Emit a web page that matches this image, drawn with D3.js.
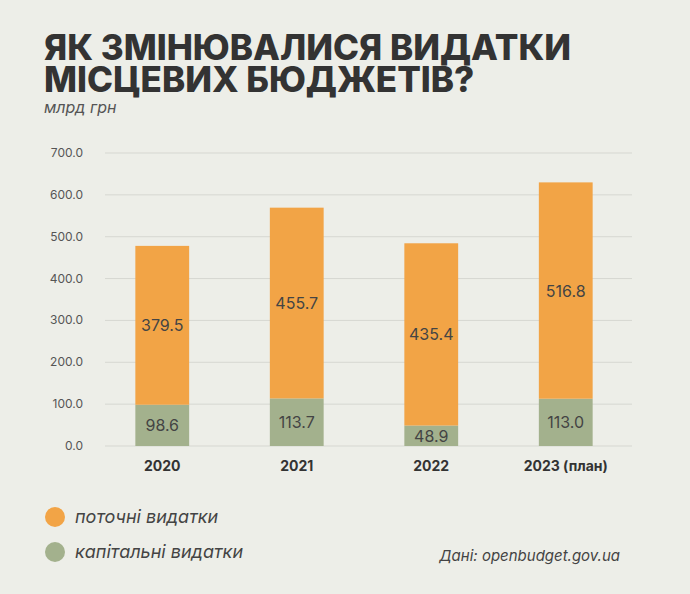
<!DOCTYPE html>
<html><head><meta charset="utf-8">
<script src="https://cdn.jsdelivr.net/npm/d3@7"></script>
<style>body{margin:0;background:#edeee8;font-family:Inter,"Open Sans",sans-serif;}</style>
</head><body>
<script>
//chart data
var years = ["2020", "2021", "2022", "2023 (план)"];
var capital = [98.6, 113.7, 48.9, 113.0];
var current = [379.5, 455.7, 435.4, 516.8];
var ticks = [0, 100, 200, 300, 400, 500, 600, 700];

var width = 690, height = 594;
var svg = d3.select("body").append("svg")
    .attr("width", width).attr("height", height)
    .style("background", "#edeee8");

//title
svg.append("text").attr("x", 44).attr("y", 60)
    .attr("font-size", 35).attr("font-weight", 800).attr("fill", "#333")
    .text("ЯК ЗМІНЮВАЛИСЯ ВИДАТКИ");
svg.append("text").attr("x", 44).attr("y", 92)
    .attr("font-size", 35).attr("font-weight", 800).attr("fill", "#333")
    .text("МІСЦЕВИХ БЮДЖЕТІВ?");
svg.append("text").attr("x", 44).attr("y", 113)
    .attr("font-size", 16).attr("font-style", "italic").attr("fill", "#555")
    .text("млрд грн");

var x = d3.scaleBand().domain(years).range([95, 633]).paddingInner(0.6).paddingOuter(0.3);
var y = d3.scaleLinear().domain([0, 700]).range([446, 153]);

//grid
svg.selectAll(".grid").data(ticks).enter().append("line")
    .attr("x1", 105).attr("x2", 632)
    .attr("y1", function(d) { return y(d); }).attr("y2", function(d) { return y(d); })
    .attr("stroke", "#d6d7d1").attr("stroke-width", 1);
svg.selectAll(".tick").data(ticks).enter().append("text")
    .attr("x", 83).attr("y", function(d) { return y(d) + 4; })
    .attr("text-anchor", "end").attr("font-size", 12).attr("fill", "#555")
    .text(function(d) { return d.toFixed(1); });

//bars
var data = years.map(function(yr, i) { return {year: yr, cap: capital[i], cur: current[i]}; });
var g = svg.selectAll(".bar").data(data).enter().append("g");
g.append("rect")
    .attr("x", function(d) { return x(d.year); }).attr("width", x.bandwidth())
    .attr("y", function(d) { return y(d.cap); })
    .attr("height", function(d) { return y(0) - y(d.cap); })
    .attr("fill", "#a3b18d");
g.append("rect")
    .attr("x", function(d) { return x(d.year); }).attr("width", x.bandwidth())
    .attr("y", function(d) { return y(d.cap + d.cur); })
    .attr("height", function(d) { return y(d.cap) - y(d.cap + d.cur); })
    .attr("fill", "#f2a446");
g.append("text")
    .attr("x", function(d) { return x(d.year) + x.bandwidth() / 2; })
    .attr("y", function(d) { return y(d.cap / 2) + 6; })
    .attr("text-anchor", "middle").attr("font-size", 16).attr("fill", "#444")
    .text(function(d) { return d.cap.toFixed(1); });
g.append("text")
    .attr("x", function(d) { return x(d.year) + x.bandwidth() / 2; })
    .attr("y", function(d) { return y(d.cap + d.cur / 2) + 6; })
    .attr("text-anchor", "middle").attr("font-size", 16).attr("fill", "#444")
    .text(function(d) { return d.cur.toFixed(1); });
g.append("text")
    .attr("x", function(d) { return x(d.year) + x.bandwidth() / 2; })
    .attr("y", 471)
    .attr("text-anchor", "middle").attr("font-size", 14).attr("font-weight", 700).attr("fill", "#333")
    .text(function(d) { return d.year; });

//legend
var legend = [["поточні видатки", "#f2a446"], ["капітальні видатки", "#a3b18d"]];
legend.forEach(function(l, i) {
    svg.append("circle").attr("cx", 55).attr("cy", 517 + i * 35).attr("r", 10).attr("fill", l[1]);
    svg.append("text").attr("x", 75).attr("y", 523 + i * 35)
        .attr("font-size", 18).attr("font-style", "italic").attr("fill", "#444").text(l[0]);
});
svg.append("text").attr("x", 620).attr("y", 561).attr("text-anchor", "end")
    .attr("font-size", 15).attr("font-style", "italic").attr("fill", "#444")
    .text("Дані: openbudget.gov.ua");
</script>
</body></html>
